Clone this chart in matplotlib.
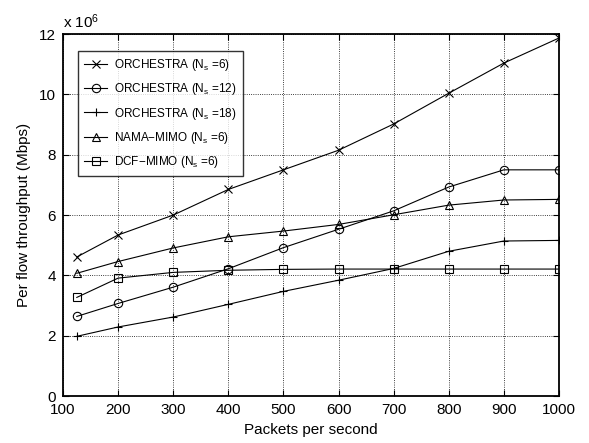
import matplotlib.pyplot as plt
import numpy as np

plt.rcParams['font.family'] = ['Liberation Sans', 'DejaVu Sans']
plt.rcParams['mathtext.default'] = 'regular'

# packets per second
x = [125, 200, 300, 400, 500, 600, 700, 800, 900, 1000]

# per flow throughput (x 1e6 Mbps)
orch6 = [4.61, 5.34, 6.0, 6.85, 7.5, 8.15, 9.02, 10.04, 11.04, 11.87]
orch12 = [2.64, 3.07, 3.61, 4.22, 4.92, 5.53, 6.14, 6.93, 7.5, 7.5]
orch18 = [1.98, 2.29, 2.62, 3.04, 3.47, 3.84, 4.23, 4.8, 5.14, 5.16]
nama6 = [4.07, 4.46, 4.91, 5.28, 5.47, 5.69, 6.01, 6.33, 6.5, 6.52]
dcf6 = [3.27, 3.91, 4.1, 4.17, 4.2, 4.21, 4.21, 4.21, 4.21, 4.21]

series = [
    (orch6, 'x', r'ORCHESTRA (N$_{s}$ =6)'),
    (orch12, 'o', r'ORCHESTRA (N$_{s}$ =12)'),
    (orch18, '+', r'ORCHESTRA (N$_{s}$ =18)'),
    (nama6, '^', r'NAMA$-$MIMO (N$_{s}$ =6)'),
    (dcf6, 's', r'DCF$-$MIMO (N$_{s}$ =6)'),
]

fig = plt.figure(figsize=(5.89, 4.43), dpi=100)
ax = fig.add_axes([0.107, 0.106, 0.842, 0.817])

for ys, m, lab in series:
    ax.plot(x, ys, color='black', lw=0.8, marker=m, ms=6,
            mfc='none', mec='black', mew=0.8, label=lab)

ax.set_xlim(100, 1000)
ax.set_ylim(0, 12)
ax.set_xticks(np.arange(100, 1001, 100))
ax.set_yticks(np.arange(0, 13, 2))
ax.tick_params(direction='in', top=True, right=True, labelsize=11, length=4)
ax.tick_params(axis='x', pad=5)
ax.tick_params(axis='y', pad=5)
ax.grid(True, linestyle=':', color='black', lw=0.6)
for s in ax.spines.values():
    s.set_linewidth(1.3)

ax.set_xlabel('Packets per second', fontsize=11, labelpad=4)
ax.set_ylabel('Per flow throughput (Mbps)', fontsize=11, labelpad=6)
ax.text(0.0, 1.008, r'x 10$^{6}$', transform=ax.transAxes, fontsize=11,
        ha='left', va='bottom')

leg = ax.legend(loc='upper left', bbox_to_anchor=(0.03, 0.953), fontsize=8.5,
                borderaxespad=0, frameon=True, fancybox=False,
                edgecolor='black', handlelength=2.0, handletextpad=0.6,
                borderpad=0.5, labelspacing=0.7)
leg.get_frame().set_linewidth(1.0)

fig.savefig('out.png', dpi=100)
